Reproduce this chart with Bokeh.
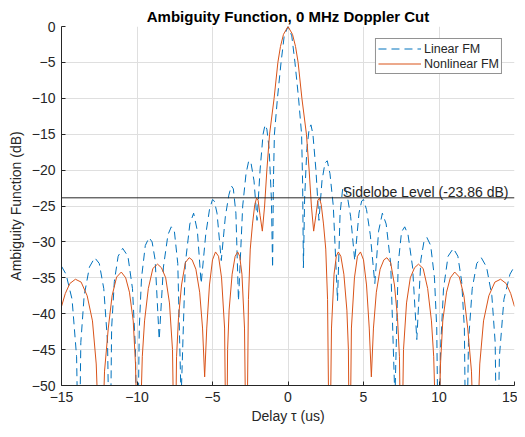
from bokeh.plotting import figure
from bokeh.models import Span, Label, Legend, LegendItem, FixedTicker
from bokeh.embed import file_html
from bokeh.resources import INLINE

# ---- data ----
title_text = "Ambiguity Function, 0 MHz Doppler Cut"
x_label = "Delay \u03c4 (us)"
y_label = "Ambiguity Function (dB)"
x_ticks = [-15, -10, -5, 0, 5, 10, 15]
y_ticks = [-50, -45, -40, -35, -30, -25, -20, -15, -10, -5, 0]
sidelobe_level = -23.86
sidelobe_text = "Sidelobe Level (-23.86 dB)"
series_names = ["Linear FM", "Nonlinear FM"]

lfm_delay = [-15.0, -14.7, -14.3, -14.0, -13.85, -13.72, -13.5, -13.15, -12.8, -12.5, -12.2, -11.95,
             -11.8, -11.68, -11.5, -11.25, -10.95, -10.6, -10.3, -10.1, -9.98, -9.85, -9.7, -9.45,
             -9.2, -9.0, -8.8, -8.53, -8.25, -7.95, -7.73, -7.52, -7.3, -7.08, -6.8, -6.5, -6.25,
             -6.0, -5.75, -5.45, -5.2, -5.0, -4.88, -4.7, -4.42, -4.15, -3.92, -3.75, -3.62, -3.45,
             -3.28, -3.0, -2.78, -2.6, -2.45, -2.25, -2.05, -1.85, -1.65, -1.52, -1.4, -1.25, -1.1,
             -1.02, -0.97, -0.9, -0.7, -0.46, -0.25, 0.0,
             0.25, 0.46, 0.7, 0.9, 0.97, 1.02, 1.1, 1.25, 1.4, 1.52, 1.65, 1.85, 2.05, 2.25, 2.45,
             2.6, 2.78, 3.0, 3.28, 3.45, 3.62, 3.75, 3.92, 4.15, 4.42, 4.7, 4.88, 5.0, 5.2, 5.45,
             5.75, 6.0, 6.25, 6.5, 6.8, 7.08, 7.3, 7.52, 7.73, 7.95, 8.25, 8.53, 8.8, 9.0, 9.2, 9.45,
             9.7, 9.85, 9.98, 10.1, 10.3, 10.6, 10.95, 11.25, 11.5, 11.68, 11.8, 11.95, 12.2, 12.5,
             12.8, 13.15, 13.5, 13.72, 13.85, 14.0, 14.3, 14.7, 15.0]
lfm_db = [-33.4, -34.5, -38.0, -46.0, -65.0, -44.0, -37.5, -33.5, -32.2, -33.0, -36.5, -44.0,
          -65.0, -42.0, -35.5, -32.0, -30.9, -32.0, -36.5, -45.0, -65.0, -42.0, -35.0, -30.5,
          -29.4, -30.0, -32.5, -43.6, -33.5, -29.0, -27.9, -28.6, -33.0, -52.0, -33.0, -27.5, -26.0,
          -28.5, -35.8, -29.0, -25.5, -24.1, -24.3, -26.0, -32.6, -26.5, -23.5, -22.2, -22.6, -26.0,
          -38.2, -25.0, -20.5, -18.7, -19.0, -21.5, -27.0, -20.0, -15.0, -13.7, -14.3, -17.0, -24.0,
          -33.6, -22.0, -15.0, -10.0, -5.0, -1.3, 0.0,
          -1.3, -5.0, -10.0, -15.0, -22.0, -33.6, -24.0, -17.0, -14.3, -13.7, -15.0, -20.0, -27.0,
          -21.5, -19.0, -18.7, -20.5, -25.0, -38.2, -26.0, -22.6, -22.2, -23.5, -26.5, -32.6, -26.0,
          -24.3, -24.1, -25.5, -29.0, -35.8, -28.5, -26.0, -27.5, -33.0, -52.0, -33.0, -28.6, -27.9,
          -29.0, -33.5, -43.6, -32.5, -30.0, -29.4, -30.5, -35.0, -42.0, -65.0, -45.0, -36.5, -32.0,
          -30.9, -32.0, -35.5, -42.0, -65.0, -44.0, -36.5, -33.0, -32.2, -33.5, -37.5, -44.0, -65.0,
          -46.0, -38.0, -34.5, -33.4]

nlfm_delay = [-15.0, -14.75, -14.45, -14.08, -13.7, -13.3, -12.95, -12.7, -12.4, -12.15, -11.9,
              -11.65, -11.35, -11.04, -10.75, -10.5, -10.25, -10.1, -9.9, -9.65, -9.5, -9.25, -8.95,
              -8.64, -8.38, -8.1, -7.85, -7.65, -7.5, -7.38, -7.25, -7.05, -6.8, -6.55, -6.35, -6.1,
              -5.85, -5.66, -5.52, -5.38, -5.2, -5.0, -4.8, -4.6, -4.4, -4.2, -4.08, -4.0, -3.9, -3.7,
              -3.5, -3.33, -3.2, -3.05, -2.88, -2.75, -2.62, -2.5, -2.35, -2.2, -2.08, -1.98, -1.85,
              -1.7, -1.55, -1.4, -1.22, -0.92, -0.67, -0.5, -0.3, 0.0,
              0.3, 0.5, 0.67, 0.92, 1.22, 1.4, 1.55, 1.7, 1.85, 1.98, 2.08, 2.2, 2.35, 2.5, 2.62, 2.75,
              2.88, 3.05, 3.2, 3.33, 3.5, 3.7, 3.9, 4.0, 4.08, 4.2, 4.4, 4.6, 4.8, 5.0, 5.2, 5.38, 5.52,
              5.66, 5.85, 6.1, 6.35, 6.55, 6.8, 7.05, 7.25, 7.38, 7.5, 7.65, 7.85, 8.1, 8.38, 8.64,
              8.95, 9.25, 9.5, 9.65, 9.9, 10.1, 10.25, 10.5, 10.75, 11.04, 11.35, 11.65, 11.9, 12.15,
              12.4, 12.7, 12.95, 13.3, 13.7, 14.08, 14.45, 14.75, 15.0]
nlfm_db = [-39.0, -37.2, -35.8, -35.2, -35.6, -37.5, -41.0, -47.0, -65.0, -48.0, -42.0,
           -37.5, -34.9, -34.2, -35.0, -37.0, -41.0, -47.0, -65.0, -46.0, -41.0, -36.5, -33.7,
           -33.1, -33.6, -35.0, -38.5, -45.0, -65.0, -46.0, -40.5, -36.0, -32.9, -32.2, -32.5, -33.8,
           -37.0, -42.0, -48.8, -42.0, -36.0, -32.5, -31.4, -32.0, -35.0, -42.0, -65.0, -45.0, -39.5,
           -34.5, -32.0, -31.4, -32.0, -34.5, -42.0, -65.0, -38.0, -31.0, -27.5, -24.8, -23.9, -24.2,
           -26.3, -28.5, -25.0, -20.0, -15.0, -10.0, -5.0, -2.8, -1.1, 0.0,
           -1.1, -2.8, -5.0, -10.0, -15.0, -20.0, -25.0, -28.5, -26.3, -24.2, -23.9, -24.8, -27.5,
           -31.0, -38.0, -65.0, -42.0, -34.5, -32.0, -31.4, -32.0, -34.5, -39.5, -45.0, -65.0, -42.0,
           -35.0, -32.0, -31.4, -32.5, -36.0, -42.0, -48.8, -42.0, -37.0, -33.8, -32.5, -32.2, -32.9,
           -36.0, -40.5, -46.0, -65.0, -45.0, -38.5, -35.0, -33.6, -33.1, -33.7, -36.5, -41.0, -46.0,
           -65.0, -47.0, -41.0, -37.0, -35.0, -34.2, -34.9, -37.5, -42.0, -48.0, -65.0, -47.0, -41.0,
           -37.5, -35.6, -35.2, -35.8, -37.2, -39.0]

# ---- styling ----
FONT = "Liberation Sans"
TXT = "#262626"
BLUE = "#0072BD"
ORANGE = "#D95319"

p = figure(width=517, height=429, x_range=(-15, 15), y_range=(-50, 0),
           output_backend="svg", toolbar_location=None,
           min_border_left=61, min_border_right=3, min_border_top=26, min_border_bottom=44)

p.title.text = title_text
p.title.align = "center"
p.title.text_font = FONT
p.title.text_font_size = "15px"
p.title.text_font_style = "bold"
p.title.text_color = "#000000"
p.title.standoff = 4

p.outline_line_color = None
p.background_fill_color = "white"
p.border_fill_color = "white"

p.xaxis.ticker = FixedTicker(ticks=x_ticks)
p.yaxis.ticker = FixedTicker(ticks=y_ticks)
for ax in (p.xaxis, p.yaxis):
    ax.major_tick_in = 4
    ax.major_tick_out = 0
    ax.minor_tick_line_color = None
    ax.axis_line_color = TXT
    ax.major_tick_line_color = TXT
    ax.major_label_text_font = FONT
    ax.major_label_text_font_size = "14px"
    ax.major_label_text_color = TXT
    ax.axis_label_text_font = FONT
    ax.axis_label_text_font_size = "14px"
    ax.axis_label_text_font_style = "normal"
    ax.axis_label_text_color = TXT
p.xaxis.axis_label = x_label
p.yaxis.axis_label = y_label
p.xaxis.major_label_standoff = 6
p.yaxis.major_label_standoff = 6
p.xaxis.axis_label_standoff = 3
p.yaxis.axis_label_standoff = 5

p.grid.grid_line_color = "#dfdfdf"
p.grid.grid_line_width = 1

r1 = p.line(lfm_delay, lfm_db, line_color=BLUE, line_width=1.0, line_dash="8 5")
r2 = p.line(nlfm_delay, nlfm_db, line_color=ORANGE, line_width=1.0)

p.add_layout(Span(location=sidelobe_level, dimension="width", line_color=TXT, line_width=1))
p.add_layout(Label(x=15, y=sidelobe_level, x_offset=-6, y_offset=6, text=sidelobe_text,
                   text_align="right", text_baseline="alphabetic", text_font=FONT,
                   text_font_size="14px", text_color=TXT))

legend = Legend(items=[LegendItem(label=series_names[0], renderers=[r1]),
                       LegendItem(label=series_names[1], renderers=[r2])],
                location="top_right", margin=12, padding=2, spacing=0,
                label_height=15, glyph_height=15, glyph_width=43, label_standoff=3,
                label_text_font=FONT, label_text_font_size="12.5px", label_text_color=TXT,
                border_line_color=TXT, border_line_width=1, background_fill_color="white",
                background_fill_alpha=1.0)
p.add_layout(legend)

open("out.html", "w").write(file_html(p, INLINE))
